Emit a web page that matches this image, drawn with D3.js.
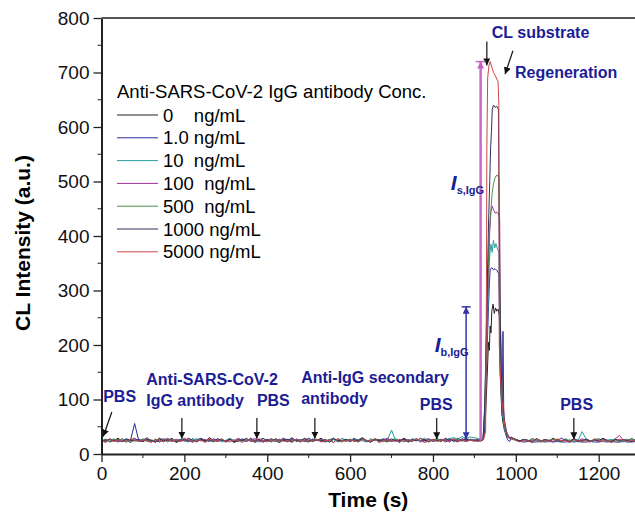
<!DOCTYPE html>
<html>
<head>
<meta charset="utf-8">
<script src="https://cdn.jsdelivr.net/npm/d3@7"></script>
<style>
body{margin:0;background:#fff;}
svg{display:block;font-family:"Liberation Sans",Arial,sans-serif;}
.legtext{white-space:pre;}
</style>
</head>
<body>
<svg id="chart"></svg>
<script>
//Data
const concLabels = ["0    ng/mL","1.0 ng/mL","10  ng/mL","100  ng/mL","500  ng/mL","1000 ng/mL","5000 ng/mL"];
const traceColors = ["#222222","#2b2b9a","#2a9d9d","#a0309a","#4f8f4f","#30305a","#c84848"];
const xMajor = [0,200,400,600,800,1000,1200];
const xMinor = [100,300,500,700,900,1100];
const yMajor = [0,100,200,300,400,500,600,700,800];
const yMinor = [50,150,250,350,450,550,650,750];

//baseline samples, every 10 s
const timePre = d3.range(0, 911, 10);
const timePost = d3.range(990, 1291, 10);

const pre0 = [24,27,22,25,29,23,26,21,28,24,25,30,23,26,22,27,24,29,21,25,26,23,28,24,27,22,30,25,23,26,24,28,21,25,27,23,29,24,26,22,25,28,24,21,27,25,30,23,26,24,22,27,25,29,23,26,21,28,24,25,27,23,26,30,24,22,28,25,23,27,24,26,21,29,25,23,28,24,26,22,27,25,23,29,24,26,22,28,25,27,24,26];
const pre1 = [25,22,28,24,26,23,27,25,56,24,23,27,25,22,29,24,26,28,23,25,27,24,22,26,29,25,23,27,24,28,22,26,25,23,28,24,27,21,25,29,24,26,23,27,25,22,28,24,26,23,29,25,27,24,22,26,28,23,25,27,24,29,23,26,25,22,27,24,28,25,23,26,24,29,22,27,25,24,26,28,23,25,27,22,26,24,29,25,23,27,25,24];
const pre10 = [23,26,24,28,22,25,27,24,26,23,28,25,22,27,24,26,29,23,25,27,24,22,26,28,25,23,27,24,26,22,25,29,24,27,23,26,25,28,22,24,27,25,23,26,29,24,22,27,25,26,23,28,24,25,27,22,26,24,29,25,23,27,26,24,22,28,25,27,23,26,44,24,27,25,23,28,26,24,22,27,25,29,24,26,28,30,27,32,29,31,30,28];
const pre100 = [26,23,27,25,22,28,24,26,29,23,25,27,24,22,26,28,25,23,27,24,29,25,22,26,24,27,23,28,25,26,22,27,24,29,25,23,26,28,24,22,27,25,26,23,29,24,27,25,22,26,28,24,25,27,23,26,29,22,25,24,27,26,23,28,24,25,27,22,26,29,24,25,23,27,26,24,28,22,25,27,23,26,24,28,25,27,23,26,29,25,27,26];
const pre500 = [24,26,23,27,25,28,22,26,24,25,27,23,26,24,29,25,22,27,24,26,25,28,23,25,27,24,26,22,28,25,24,27,23,26,25,29,24,22,27,25,26,24,28,23,25,27,24,26,22,28,25,24,27,23,26,25,29,24,22,26,27,25,24,28,23,26,25,27,24,22,26,28,25,23,27,24,26,25,29,23,25,27,24,26,22,28,25,24,27,26,24,27];
const pre1000 = [22,25,27,24,26,23,28,25,24,27,23,26,25,22,28,24,27,25,23,26,24,29,25,22,27,24,26,23,28,25,24,27,22,26,25,28,23,24,27,25,26,22,28,24,25,27,23,26,24,29,25,23,27,24,26,22,28,25,24,27,23,26,25,28,24,22,27,25,26,23,28,24,25,27,22,26,24,29,25,23,27,24,26,25,28,23,26,24,27,25,24,26];
const pre5000 = [25,21,27,23,26,24,22,28,25,23,26,24,21,27,25,22,28,24,26,23,25,27,22,24,26,21,28,25,23,27,24,22,26,25,21,27,24,23,28,25,22,26,24,27,23,25,21,28,24,26,23,25,27,22,24,26,21,28,25,23,26,24,22,27,25,23,28,21,24,26,25,23,27,22,26,24,28,25,21,24,27,23,26,25,22,28,24,26,23,25,24,23];

//peak region [time, intensity]
const peak0 = [[916,25],[922,27],[926,55],[929,110],[932,165],[934,205],[936,190],[938,235],[940,222],[942,262],[945,275],[948,258],[951,268],[954,262],[957,266],[960,255],[962,150],[965,95],[968,62],[972,45],[977,35],[983,29]];
const peak1 = [[916,24],[921,26],[925,60],[928,130],[931,200],[934,270],[936,310],[938,338],[942,342],[946,338],[950,340],[955,336],[959,330],[962,180],[965,110],[967,70],[969,225],[971,60],[975,38],[980,26],[985,23]];
const peak10 = [[916,28],[921,30],[925,70],[928,150],[931,230],[934,300],[936,350],[938,372],[940,385],[943,370],[946,392],[949,378],[952,386],[956,375],[959,370],[962,200],[965,120],[968,75],[972,48],[977,36],[983,30]];
const peak100 = [[916,26],[921,28],[925,80],[928,170],[931,260],[934,340],[937,410],[940,445],[943,455],[946,448],[950,442],[954,444],[958,440],[961,430],[963,230],[966,150],[969,95],[973,60],[978,40],[984,30]];
const peak500 = [[916,25],[921,27],[925,85],[928,180],[931,280],[934,360],[937,420],[940,450],[943,480],[946,495],[949,505],[952,510],[956,512],[959,505],[962,260],[965,160],[968,100],[972,62],[977,42],[983,31]];
const peak1000 = [[916,24],[921,26],[925,90],[928,200],[931,310],[934,420],[937,500],[939,560],[941,590],[943,632],[946,640],[950,636],[954,638],[958,633],[961,300],[964,170],[967,105],[971,65],[976,42],[982,31]];
const peak5000 = [[916,25],[922,27],[927,40],[929,300],[930,560],[932,690],[935,712],[938,720],[942,710],[946,700],[950,695],[954,688],[957,684],[959,640],[960,200],[963,140],[966,100],[970,68],[975,45],[981,33],[986,28]];

const post0 = [30,27,24,26,23,28,25,22,27,24,29,25,23,26,24,28,22,25,27,24,26,23,29,25,24,27,22,26,25,28,24];
const post1 = [31,25,23,22,23,22,22,23,22,23,22,23,22,22,23,22,23,22,22,23,22,22,23,22,23,22,22,23,22,22,23];
const post10 = [28,26,24,27,25,23,28,24,26,22,27,25,29,24,26,23,25,41,27,24,26,28,23,25,27,24,26,22,25,28,24];
const post100 = [29,26,24,27,23,25,28,24,26,23,27,24,29,25,22,26,24,28,25,23,27,24,26,25,23,28,34,25,27,24,26];
const post500 = [27,25,23,26,24,28,25,22,26,24,27,25,23,28,24,26,25,22,27,24,26,28,23,25,24,27,22,26,25,28,24];
const post1000 = [30,26,24,27,25,22,28,24,26,25,23,27,24,26,22,28,25,24,27,23,26,25,28,24,22,27,25,26,24,23,27];
const post5000 = [31,25,22,26,24,21,27,25,23,26,22,28,24,25,21,27,23,26,24,22,28,25,23,26,21,24,27,25,22,26,23];

const preList = [pre0,pre1,pre10,pre100,pre500,pre1000,pre5000];
const peakList = [peak0,peak1,peak10,peak100,peak500,peak1000,peak5000];
const postList = [post0,post1,post10,post100,post500,post1000,post5000];

//Build each trace from its three parts
const traces = preList.map((pre, i) => {
  const a = pre.map((v, j) => [timePre[j], v]);
  const c = postList[i].map((v, j) => [timePost[j], v]);
  return a.concat(peakList[i], c);
});

//Chart Setup
const w = 635, h = 524;
const padL = 101.5, padR = 636, padT = 18, padB = 454;

const xScale = d3.scaleLinear().domain([0, 1290]).range([padL, padR]);
const yScale = d3.scaleLinear().domain([0, 800]).range([padB, padT]);

const svg = d3.select("#chart").attr("width", w).attr("height", h);

//arrow heads
const defs = svg.append("defs");
function marker(id, color, orient){
  defs.append("marker")
      .attr("id", id)
      .attr("viewBox", "0 0 10 10")
      .attr("refX", 10).attr("refY", 5)
      .attr("markerWidth", 7).attr("markerHeight", 7)
      .attr("markerUnits", "userSpaceOnUse")
      .attr("orient", orient)
    .append("path")
      .attr("d", "M0,0 L10,5 L0,10 Z")
      .attr("fill", color);
}
marker("arrBlack", "#111", "auto");
marker("arrBlue", "#3434a8", "auto");
marker("arrBlueStart", "#3434a8", "auto-start-reverse");
marker("arrPink", "#c860c8", "auto");

//Traces
const line = d3.line().x(d => xScale(d[0])).y(d => yScale(d[1]));
svg.append("g")
   .selectAll("path")
   .data(traces)
   .enter()
   .append("path")
   .attr("d", line)
   .attr("fill", "none")
   .attr("stroke", (d, i) => traceColors[i])
   .attr("stroke-width", 1)
   .attr("stroke-linejoin", "round");

//Axes
const xAxis = svg.append("g")
   .attr("transform", "translate(0," + padB + ")")
   .call(d3.axisBottom(xScale).tickValues(xMajor).tickFormat(d3.format("d"))
         .tickSize(8).tickSizeOuter(0).tickPadding(5));
xAxis.selectAll(".tick text").attr("font-size", 19).attr("fill", "#111");
xAxis.append("g").selectAll("line")
   .data(xMinor).enter().append("line")
   .attr("x1", d => xScale(d)).attr("x2", d => xScale(d))
   .attr("y1", 0).attr("y2", 4).attr("stroke", "#222");

const yAxis = svg.append("g")
   .attr("transform", "translate(" + padL + ",0)")
   .call(d3.axisLeft(yScale).tickValues(yMajor).tickSize(8).tickSizeOuter(0).tickPadding(4));
yAxis.selectAll(".tick text").attr("font-size", 19).attr("fill", "#111");
yAxis.append("g").selectAll("line")
   .data(yMinor).enter().append("line")
   .attr("y1", d => yScale(d)).attr("y2", d => yScale(d))
   .attr("x1", 0).attr("x2", -4).attr("stroke", "#222");

svg.selectAll(".domain").attr("stroke", "#222").attr("stroke-width", 2);
svg.selectAll(".tick line").attr("stroke", "#222").attr("stroke-width", 1.3);

//top frame line
svg.append("line")
   .attr("x1", padL).attr("x2", w)
   .attr("y1", padT).attr("y2", padT)
   .attr("stroke", "#555").attr("stroke-width", 2);

//Axis titles
svg.append("text")
   .attr("x", (padL + w) / 2).attr("y", 507)
   .attr("text-anchor", "middle")
   .attr("font-size", 21).attr("font-weight", "bold")
   .text("Time (s)");

svg.append("text")
   .attr("transform", "translate(30,243) rotate(-90)")
   .attr("text-anchor", "middle")
   .attr("font-size", 21).attr("font-weight", "bold")
   .text("CL Intensity (a.u.)");

//Legend
const legend = svg.append("g");
legend.append("text")
   .attr("x", 117).attr("y", 98)
   .attr("font-size", 18.5)
   .text("Anti-SARS-CoV-2 IgG antibody Conc.");
const rows = legend.selectAll(".row")
   .data(concLabels).enter().append("g")
   .attr("transform", (d, i) => "translate(0," + (115 + i * 22.8) + ")");
rows.append("line")
   .attr("x1", 117).attr("x2", 158)
   .attr("stroke", (d, i) => traceColors[i]).attr("stroke-width", 1);
rows.append("text")
   .attr("class", "legtext")
   .attr("x", 163).attr("y", 6.5)
   .attr("font-size", 18.5)
   .text(d => d);

//Annotations
const navy = "#1c1c96";
const notes = [
  {t: 4, v: 95, lines: ["PBS"]},
  {t: 108, v: 127, lines: ["Anti-SARS-CoV-2", "IgG antibody"]},
  {t: 375, v: 88, lines: ["PBS"]},
  {t: 482, v: 130, lines: ["Anti-IgG secondary", "antibody"]},
  {t: 768, v: 81, lines: ["PBS"]},
  {t: 1107, v: 81, lines: ["PBS"]},
  {t: 942, v: 763, lines: ["CL substrate"]},
  {t: 998, v: 690, lines: ["Regeneration"]}
];
notes.forEach(n => {
  n.lines.forEach((s, k) => {
    svg.append("text")
       .attr("x", xScale(n.t)).attr("y", yScale(n.v) + k * 21)
       .attr("font-size", 16).attr("font-weight", "bold")
       .attr("fill", navy)
       .text(s);
  });
});

//black arrows [t1, v1, t2, v2]
const arrows = [[25,77,4,32],[194,66,194,28],[375,66,375,28],[515,66,515,28],[809,66,809,27],[1140,66,1140,27],[930,757,930,713],[993,740,974,697]];
svg.append("g").selectAll("line")
   .data(arrows).enter().append("line")
   .attr("x1", d => xScale(d[0])).attr("y1", d => yScale(d[1]))
   .attr("x2", d => xScale(d[2])).attr("y2", d => yScale(d[3]))
   .attr("stroke", "#111").attr("stroke-width", 1.2)
   .attr("marker-end", "url(#arrBlack)");

//I_b,IgG double arrow
const ib = {t: 880, lo: 27, hi: 270};
svg.append("line")
   .attr("x1", xScale(ib.t)).attr("x2", xScale(ib.t))
   .attr("y1", yScale(ib.lo)).attr("y2", yScale(ib.hi))
   .attr("stroke", "#3434a8").attr("stroke-width", 1.5)
   .attr("marker-start", "url(#arrBlueStart)")
   .attr("marker-end", "url(#arrBlue)");
svg.append("line")
   .attr("x1", xScale(ib.t) - 4.5).attr("x2", xScale(ib.t) + 4.5)
   .attr("y1", yScale(ib.hi)).attr("y2", yScale(ib.hi))
   .attr("stroke", "#3434a8").attr("stroke-width", 1.5);

//I_s,IgG arrow
const is = {t: 915, lo: 25, hi: 720};
svg.append("line")
   .attr("x1", xScale(is.t)).attr("x2", xScale(is.t))
   .attr("y1", yScale(is.lo)).attr("y2", yScale(is.hi))
   .attr("stroke", "#c868c8").attr("stroke-width", 2.5)
   .attr("marker-end", "url(#arrPink)");
svg.append("line")
   .attr("x1", xScale(is.t) - 5).attr("x2", xScale(is.t) + 5)
   .attr("y1", yScale(is.hi)).attr("y2", yScale(is.hi))
   .attr("stroke", "#c868c8").attr("stroke-width", 1.5);

//I labels
function iLabel(t, v, sub){
  const g = svg.append("text")
     .attr("x", xScale(t)).attr("y", yScale(v))
     .attr("fill", navy).attr("font-weight", "bold");
  g.append("tspan").attr("font-size", 21).attr("font-style", "italic").text("I");
  g.append("tspan").attr("font-size", 11).attr("dy", 4).attr("dx", 0).text(sub);
}
iLabel(804, 187, "b,IgG");
iLabel(843, 485, "s,IgG");
</script>
</body>
</html>
